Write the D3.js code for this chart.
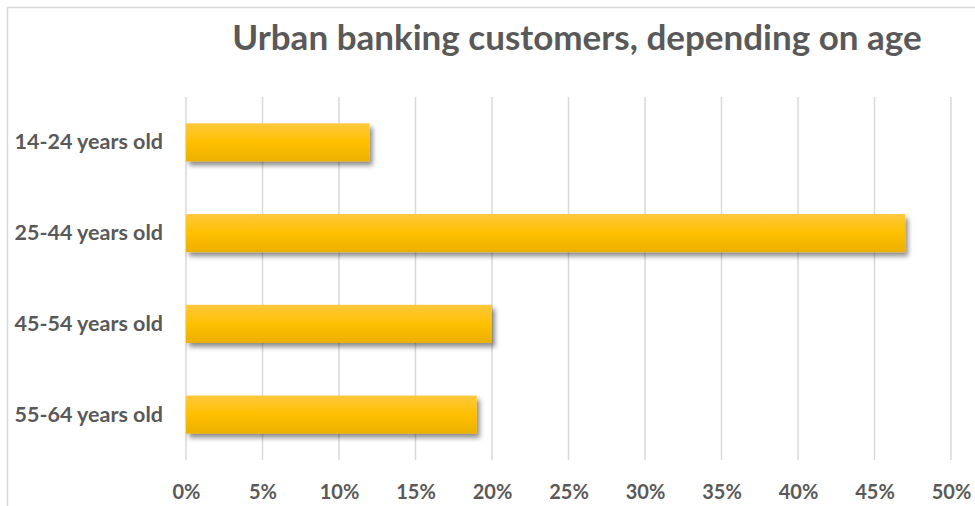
<!DOCTYPE html>
<html>
<head>
<meta charset="utf-8">
<script src="https://cdn.jsdelivr.net/npm/d3@7"></script>
<style>
  html, body { margin: 0; padding: 0; background: #fff; }
  svg { display: block; }
  text { font-family: Lato, "Open Sans", sans-serif; font-weight: bold; fill: #595959; }
</style>
</head>
<body>
<svg id="chart" width="975" height="506"></svg>
<script>
// Share of urban banking customers by age group
const categories = ["14-24 years old", "25-44 years old", "45-54 years old", "55-64 years old"];
const shares = [0.12, 0.47, 0.20, 0.19];
const tickValues = [0, 0.05, 0.10, 0.15, 0.20, 0.25, 0.30, 0.35, 0.40, 0.45, 0.50];
const title = "Urban banking customers, depending on age";

const svg = d3.select("#chart");
const W = 975, H = 506;
const margin = { top: 97, right: 24, bottom: 46, left: 186 };

// Outer frame
svg.append("rect")
  .attr("x", 7.5).attr("y", 7.5)
  .attr("width", W + 20).attr("height", H + 20)
  .attr("fill", "#fff")
  .attr("stroke", "#d9d9d9").attr("stroke-width", 1.5);

const defs = svg.append("defs");
const grad = defs.append("linearGradient")
  .attr("id", "barFill").attr("x1", 0).attr("y1", 0).attr("x2", 0).attr("y2", 1);
grad.append("stop").attr("offset", "0%").attr("stop-color", "#ffc83d");
grad.append("stop").attr("offset", "50%").attr("stop-color", "#ffc000");
grad.append("stop").attr("offset", "100%").attr("stop-color", "#ebb000");

const shadow = defs.append("filter").attr("id", "barShadow")
  .attr("x", "-5%").attr("y", "-20%").attr("width", "115%").attr("height", "160%");
shadow.append("feDropShadow")
  .attr("dx", 3).attr("dy", 4).attr("stdDeviation", 2.5)
  .attr("flood-color", "#000").attr("flood-opacity", 0.45);

const x = d3.scaleLinear().domain([0, 0.5]).range([margin.left, 951]);
const y = d3.scaleBand().domain(categories)
  .range([margin.top, H - margin.bottom]).paddingInner(0.58).paddingOuter(0.29);

// Vertical gridlines
svg.append("g")
  .selectAll("line")
  .data(tickValues)
  .join("line")
  .attr("x1", d => x(d)).attr("x2", d => x(d))
  .attr("y1", margin.top).attr("y2", H - margin.bottom)
  .attr("stroke", "#d9d9d9").attr("stroke-width", 1.5);

// X axis labels
const xAxis = d3.axisBottom(x).tickValues(tickValues).tickFormat(d3.format(".0%")).tickSize(0).tickPadding(0);
const gx = svg.append("g").attr("transform", `translate(0, ${H - 7})`).call(xAxis);
gx.select(".domain").remove();
gx.selectAll("text").attr("font-size", 20).attr("dy", 0).style("font-family", "Lato, sans-serif");

// Y axis labels
const yAxis = d3.axisLeft(y).tickSize(0).tickPadding(23);
const gy = svg.append("g").attr("transform", `translate(${margin.left}, 0)`).call(yAxis);
gy.select(".domain").remove();
gy.selectAll("text").attr("font-size", 21.5).style("font-family", "Lato, sans-serif");

// Bars
svg.append("g")
  .selectAll("rect")
  .data(categories.map((c, i) => ({ c, v: shares[i] })))
  .join("rect")
  .attr("x", x(0))
  .attr("y", d => y(d.c))
  .attr("width", d => x(d.v) - x(0))
  .attr("height", y.bandwidth())
  .attr("fill", "url(#barFill)")
  .attr("filter", "url(#barShadow)");

// Title
svg.append("text")
  .attr("x", 577).attr("y", 50)
  .attr("text-anchor", "middle")
  .attr("font-size", 35)
  .text(title);
</script>
</body>
</html>
